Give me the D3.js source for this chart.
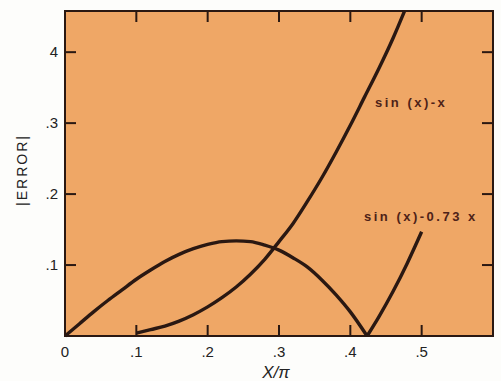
<!DOCTYPE html>
<html>
<head>
<meta charset="utf-8">
<script src="https://cdn.jsdelivr.net/npm/d3@7"></script>
<style>
  body { margin: 0; background: #fdfdfb; }
  svg { display: block; }
</style>
</head>
<body>
<svg id="chart" width="501" height="381"></svg>
<script>
// x/pi sample points and |error|
var xs1 = [0.10, 0.12, 0.14, 0.16, 0.18, 0.20, 0.22, 0.24, 0.26, 0.28, 0.30, 0.32, 0.34, 0.36, 0.38, 0.40, 0.42, 0.44, 0.46, 0.476];
var err1 = [0.004, 0.009, 0.014, 0.021, 0.030, 0.041, 0.054, 0.069, 0.087, 0.108, 0.133, 0.159, 0.190, 0.223, 0.259, 0.297, 0.337, 0.377, 0.420, 0.458];

var xs2 = [0, 0.02, 0.04, 0.06, 0.08, 0.10, 0.12, 0.14, 0.16, 0.18, 0.20, 0.22, 0.24, 0.26, 0.28, 0.30, 0.32, 0.34, 0.36, 0.38, 0.40, 0.4235, 0.44, 0.46, 0.48, 0.50];
var err2 = [0, 0.017, 0.034, 0.050, 0.065, 0.080, 0.093, 0.105, 0.115, 0.123, 0.129, 0.133, 0.134, 0.133, 0.128, 0.121, 0.110, 0.097, 0.079, 0.058, 0.034, 0, 0.027, 0.063, 0.103, 0.147];

var xTicks = [0, 0.1, 0.2, 0.3, 0.4, 0.5];
var xTickLabels = ["0", ".1", ".2", ".3", ".4", ".5"];
var yTicks = [0.1, 0.2, 0.3, 0.4];
var yTickLabels = [".1", ".2", ".3", "4"];

function drawChart() {
  var svg = d3.select("#chart");
  var left = 65, right = 493, plotTop = 11, bottom = 336;

  var x = d3.scaleLinear().domain([0, 0.6]).range([left, right]);
  var y = d3.scaleLinear().domain([0, 0.458]).range([bottom, plotTop]);

  var ink = "#2a1812";
  var labelFont = "'Liberation Sans', Arial, sans-serif";

  // 绘图区底色
  svg.append("rect")
    .attr("x", left).attr("y", plotTop)
    .attr("width", right - left).attr("height", bottom - plotTop)
    .attr("fill", "#efa766");

  // 刻度 (朝内)
  var tickLen = 11;
  var g = svg.append("g").attr("stroke", ink).attr("stroke-width", 2);
  xTicks.forEach(function(d) {
    if (d === 0) return;
    g.append("line").attr("x1", x(d)).attr("x2", x(d)).attr("y1", bottom).attr("y2", bottom - tickLen);
    g.append("line").attr("x1", x(d)).attr("x2", x(d)).attr("y1", plotTop).attr("y2", plotTop + tickLen);
  });
  yTicks.forEach(function(d) {
    g.append("line").attr("x1", left).attr("x2", left + tickLen).attr("y1", y(d)).attr("y2", y(d));
    g.append("line").attr("x1", right).attr("x2", right - tickLen).attr("y1", y(d)).attr("y2", y(d));
  });

  // 边框
  svg.append("rect")
    .attr("x", left).attr("y", plotTop)
    .attr("width", right - left).attr("height", bottom - plotTop)
    .attr("fill", "none").attr("stroke", ink).attr("stroke-width", 2);

  // 刻度文字
  svg.append("g").selectAll("text")
    .data(xTicks)
    .enter().append("text")
    .attr("x", function(d) { return x(d); })
    .attr("y", 357)
    .attr("text-anchor", "middle")
    .attr("font-family", labelFont)
    .attr("font-size", 15)
    .attr("fill", "#222")
    .text(function(d, i) { return xTickLabels[i]; });

  svg.append("g").selectAll("text")
    .data(yTicks)
    .enter().append("text")
    .attr("x", 58)
    .attr("y", function(d) { return y(d) + 5; })
    .attr("text-anchor", "end")
    .attr("font-family", labelFont)
    .attr("font-size", 15)
    .attr("fill", "#222")
    .text(function(d, i) { return yTickLabels[i]; });

  // 坐标轴标题
  svg.append("text")
    .attr("transform", "translate(27,170) rotate(-90)")
    .attr("text-anchor", "middle")
    .attr("font-family", labelFont)
    .attr("font-size", 14)
    .attr("letter-spacing", 2)
    .attr("fill", "#222")
    .text("|ERROR|");

  svg.append("text")
    .attr("x", 276)
    .attr("y", 378)
    .attr("text-anchor", "middle")
    .attr("font-family", labelFont)
    .attr("font-size", 17)
    .attr("font-style", "italic")
    .attr("fill", "#222")
    .text("X/π");

  // 曲线
  var line = d3.line()
    .x(function(d) { return x(d[0]); })
    .y(function(d) { return y(d[1]); })
    .curve(d3.curveMonotoneX);

  var pts1 = d3.zip(xs1, err1);
  var pts2 = d3.zip(xs2, err2);
  var zeroIdx = err2.lastIndexOf(0);

  [pts1, pts2.slice(0, zeroIdx + 1), pts2.slice(zeroIdx)].forEach(function(p) {
    svg.append("path")
      .attr("d", line(p))
      .attr("fill", "none")
      .attr("stroke", ink)
      .attr("stroke-width", 3.4)
      .attr("stroke-linejoin", "round");
  });

  // 曲线标注
  svg.append("text")
    .attr("x", 375).attr("y", 107)
    .attr("font-family", labelFont)
    .attr("font-size", 13)
    .attr("font-weight", "bold")
    .attr("letter-spacing", 2.5)
    .attr("fill", "#4e2218")
    .text("sin (x)-x");

  svg.append("text")
    .attr("x", 364).attr("y", 221)
    .attr("font-family", labelFont)
    .attr("font-size", 13)
    .attr("font-weight", "bold")
    .attr("letter-spacing", 2.5)
    .attr("fill", "#4e2218")
    .text("sin (x)-0.73 x");
}

drawChart();
</script>
</body>
</html>
